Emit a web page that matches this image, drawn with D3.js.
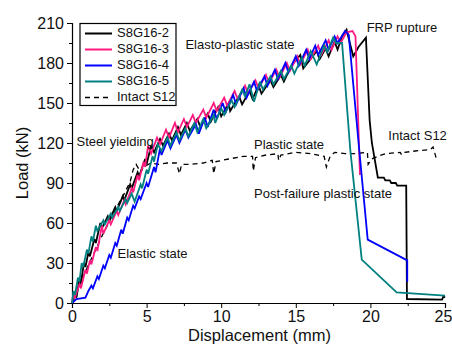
<!DOCTYPE html>
<html>
<head>
<meta charset="utf-8">
<script src="https://cdn.jsdelivr.net/npm/d3@7"></script>
<style>
  html, body { margin: 0; padding: 0; background: #fff; }
  svg { display: block; font-family: Arial, "Liberation Sans", sans-serif; }
</style>
</head>
<body>
<svg id="chart" width="452" height="349"></svg>
<script>
// Load–displacement curves, [displacement (mm), load (kN)]
const s8g16_2 = [[0,0],[0.2,6],[0.3,4],[0.5,18],[0.6,15],[0.8,30],[0.9,27],[1.1,38],[1.2,35],[1.5,48],[1.6,45],[1.9,60],[2.0,56],[2.4,65],[2.5,62],[2.9,72],[3.0,69],[3.4,80],[3.5,77],[3.9,89],[4.0,86],[4.4,98],[4.5,95],[4.9,108],[5.0,104],[5.3,118],[5.5,113],[5.9,123],[6.1,118],[6.5,127],[6.7,122],[7.1,132],[7.3,126],[7.7,135],[7.9,129],[8.4,138],[8.6,132],[9.1,142],[9.3,136],[9.8,147],[10.0,140],[10.5,150],[10.6,144],[11.2,155],[11.4,149],[11.9,159],[12.1,153],[12.5,163],[12.7,157],[13.3,167],[13.5,162],[14.0,171],[14.2,166],[14.7,178],[15.3,186],[15.5,176],[16.2,186],[16.4,189],[16.6,183],[17.0,191],[17.2,185],[17.6,196],[17.8,190],[18.1,200],[18.4,205],[18.6,196],[18.85,185],[19.2,192],[19.7,199],[19.95,137],[20.1,120],[20.5,94],[20.9,94],[21.0,92],[21.3,92],[21.4,90],[21.7,90],[21.8,88],[22.4,88],[22.45,3],[24.8,2.5],[24.9,5],[25,4]];

const s8g16_3 = [[0,0],[0.1,7],[0.2,4],[0.5,14],[0.6,11],[0.9,25],[1.0,22],[1.2,32],[1.3,29],[1.6,42],[1.7,39],[2.0,58],[2.1,52],[2.5,62],[2.6,59],[3.0,69],[3.1,66],[3.5,77],[3.6,74],[4.0,86],[4.1,83],[4.4,96],[4.5,92],[4.8,106],[4.9,102],[5.1,118],[5.3,112],[5.7,124],[5.9,119],[6.3,130],[6.5,124],[6.9,135],[7.1,128],[7.5,138],[7.7,132],[8.1,141],[8.3,135],[8.8,145],[9.0,139],[9.5,150],[9.7,144],[10.2,154],[10.4,148],[10.9,159],[11.1,153],[11.6,163],[11.8,157],[12.3,167],[12.5,161],[13.0,171],[13.2,165],[13.7,175],[13.9,169],[14.4,180],[14.6,174],[15.1,185],[15.3,179],[15.8,190],[16.0,183],[16.5,193],[16.7,186],[17.2,197],[17.4,190],[17.8,200],[18.0,195],[18.4,203],[18.8,204],[19.0,200],[19.3,96]];

const s8g16_4 = [[0,0],[0.3,3],[0.9,4],[1.1,9],[1.3,13],[1.4,11],[1.7,20],[1.8,18],[2.1,28],[2.2,26],[2.5,36],[2.6,34],[2.9,45],[3.0,43],[3.3,55],[3.4,52],[3.7,64],[3.8,62],[4.1,73],[4.2,71],[4.5,80],[4.6,78],[5.0,90],[5.1,87],[5.5,102],[5.6,98],[5.9,116],[6.0,111],[6.4,122],[6.6,116],[7.0,126],[7.2,120],[7.6,130],[7.8,124],[8.3,134],[8.5,127],[8.9,139],[9.1,132],[9.5,145],[9.7,138],[10.1,150],[10.3,143],[10.8,156],[11.0,149],[11.5,161],[11.7,154],[12.2,166],[12.4,159],[12.9,170],[13.1,163],[13.6,175],[13.8,168],[14.3,180],[14.5,173],[15.0,185],[15.2,178],[15.7,190],[15.9,183],[16.3,193],[16.5,186],[17.0,197],[17.2,190],[17.6,200],[17.8,195],[18.3,204],[18.55,201],[19.25,115],[19.82,47.5],[22.47,32],[22.47,16]];

const s8g16_5 = [[0,0],[0.1,9],[0.2,6],[0.4,19],[0.5,16],[0.65,30],[0.75,27],[1.0,40],[1.1,37],[1.3,50],[1.4,46],[1.6,58],[1.7,54],[2.1,62],[2.2,59],[2.6,67],[2.7,64],[3.1,72],[3.2,69],[3.6,78],[3.7,75],[4.0,82],[4.2,76],[4.6,89],[4.7,86],[5.0,100],[5.1,97],[5.4,110],[5.5,106],[5.75,119],[6.0,114],[6.4,124],[6.6,118],[7.0,128],[7.2,122],[7.6,131],[7.8,125],[8.2,135],[8.4,128],[8.8,138],[9.0,131],[9.5,141],[9.6,135],[10.0,146],[10.2,141],[10.7,152],[10.9,147],[11.4,160],[11.6,155],[11.9,164],[12.2,151],[12.6,166],[12.8,160],[13.3,170],[13.5,164],[14.0,174],[14.2,168],[14.7,178],[14.9,172],[15.4,184],[15.6,178],[16.0,189],[16.4,179],[16.9,193],[17.1,188],[17.5,199],[17.7,195],[18.1,195],[18.65,115],[19.42,32.5],[21.76,8],[25,5.5]];

const intactS12 = [[0,0],[0.3,8],[0.6,16],[1.0,26],[1.5,38],[2.0,50],[2.5,61],[3.0,72],[3.5,82],[3.9,91],[4.1,100],[4.3,104],[4.6,98],[4.8,102],[5.3,105],[5.8,104],[6.4,105],[7.0,105],[7.2,97],[7.35,104],[8.0,104],[8.8,105],[9.4,107],[9.5,97],[9.65,106],[10.5,108],[11.5,110],[12.1,110],[12.15,99],[12.3,109],[13.0,111],[13.8,112],[13.85,107],[14.0,111],[15.0,113],[16.0,112],[16.9,110],[17.05,102],[17.3,110],[17.6,113],[18.3,112],[19.0,112],[19.8,113],[19.85,104],[20.1,108],[20.5,110],[21.0,112],[22.0,113],[22.1,111],[22.3,113],[23.0,114],[24.0,115],[24.2,117],[24.4,109]];

const seriesNames = ["S8G16-2", "S8G16-3", "S8G16-4", "S8G16-5", "Intact S12"];
const seriesColors = ["#000000", "#ff1a80", "#0000ff", "#008080", "#000000"];

const xTicks = [0, 5, 10, 15, 20, 25];
const yTicks = [0, 30, 60, 90, 120, 150, 180, 210];

const annotations = [
  { text: "Steel yielding", x: 0.3, y: 120 },
  { text: "Elasto-plastic state", x: 7.6, y: 193 },
  { text: "FRP rupture", x: 19.75, y: 206 },
  { text: "Plastic state", x: 12.2, y: 118 },
  { text: "Intact S12", x: 21.2, y: 125 },
  { text: "Post-failure plastic state", x: 12.2, y: 81 },
  { text: "Elastic state", x: 3.05, y: 36 }
];

const W = 452, H = 349;
const margin = { top: 23, right: 7, bottom: 46, left: 72 };

const svg = d3.select("#chart");
const x = d3.scaleLinear().domain([0, 25]).range([margin.left, W - margin.right]);
const y = d3.scaleLinear().domain([0, 210]).range([H - margin.bottom, margin.top]);

// axes with one minor tick between major ticks
function drawAxis(axisGen, majors, step, transform) {
  const minors = [];
  for (let i = 0; i < majors.length - 1; i++) minors.push(majors[i] + step / 2);
  const g = svg.append("g").attr("transform", transform);
  g.call(axisGen.tickValues(minors).tickSize(3).tickFormat(""));
  g.select(".domain").remove();
  const g2 = svg.append("g").attr("transform", transform);
  g2.call(axisGen.tickValues(majors).tickSize(5).tickFormat(d3.format("d")).tickPadding(3));
  [g, g2].forEach(gg => {
    gg.selectAll("line").attr("stroke", "#000").attr("stroke-width", 1);
    gg.select(".domain").attr("stroke", "#000").attr("stroke-width", 1.2);
    gg.selectAll("text").attr("font-size", 16).attr("fill", "#111")
      .attr("font-family", "Arial, 'Liberation Sans', sans-serif");
  });
  return g2;
}

const xAxisG = drawAxis(d3.axisBottom(x).tickSizeOuter(0), xTicks, 5, `translate(0,${y(0)})`);
// keep the last x label inside the canvas edge
xAxisG.selectAll(".tick text").filter(d => d === 25).attr("dx", -2);
drawAxis(d3.axisLeft(y).tickSizeOuter(0), yTicks, 30, `translate(${x(0)},0)`);

// axis titles
svg.append("text")
  .attr("x", (x(0) + x(25)) / 2 + 1).attr("y", 341)
  .attr("text-anchor", "middle").attr("font-size", 16.5).attr("fill", "#111")
  .text("Displacement (mm)");
svg.append("text")
  .attr("transform", `translate(28,${(y(0) + y(210)) / 2}) rotate(-90)`)
  .attr("text-anchor", "middle").attr("font-size", 16.5).attr("fill", "#111")
  .text("Load (kN)");

// curves
const line = d3.line().x(d => x(d[0])).y(d => y(d[1]));
const curves = [s8g16_2, s8g16_3, s8g16_4, s8g16_5];

svg.append("path").datum(intactS12)
  .attr("d", line).attr("fill", "none")
  .attr("stroke", seriesColors[4]).attr("stroke-width", 1.3)
  .attr("stroke-dasharray", "5,4");

curves.forEach((c, i) => {
  svg.append("path").datum(c)
    .attr("d", line).attr("fill", "none")
    .attr("stroke", seriesColors[i]).attr("stroke-width", 1.8)
    .attr("stroke-linejoin", "miter").attr("stroke-miterlimit", 3);
});

// annotations
annotations.forEach(a => {
  svg.append("text")
    .attr("x", x(a.x)).attr("y", y(a.y))
    .attr("dominant-baseline", "middle")
    .attr("font-size", 13).attr("fill", "#111")
    .text(a.text);
});

// legend
const lg = svg.append("g");
lg.append("rect")
  .attr("x", 80).attr("y", 23.5).attr("width", 96).attr("height", 82)
  .attr("fill", "#fff").attr("stroke", "#000").attr("stroke-width", 1.2);
seriesNames.forEach((name, i) => {
  const yy = 33.5 + i * 16;
  lg.append("line")
    .attr("x1", 85).attr("x2", 112).attr("y1", yy).attr("y2", yy)
    .attr("stroke", seriesColors[i]).attr("stroke-width", i < 4 ? 2 : 1.3)
    .attr("stroke-dasharray", i < 4 ? null : "5,4");
  lg.append("text")
    .attr("x", 117).attr("y", yy).attr("dominant-baseline", "middle")
    .attr("font-size", 13).attr("fill", "#111").text(name);
});
</script>
</body>
</html>
